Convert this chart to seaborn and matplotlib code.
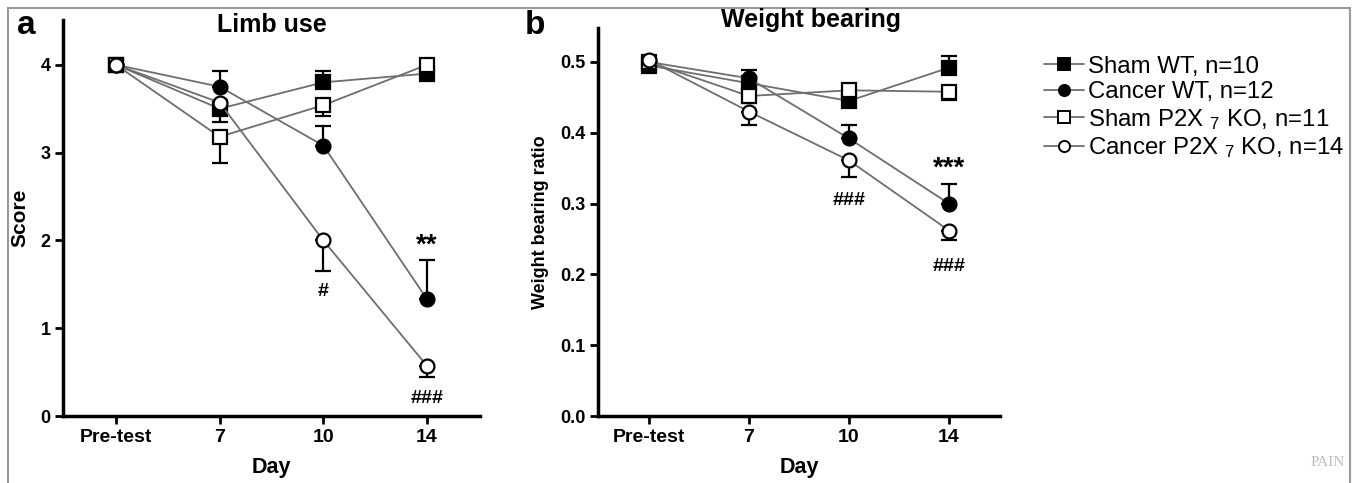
import numpy as np
import pandas as pd
import seaborn as sns
import matplotlib.pyplot as plt
from matplotlib.lines import Line2D
from matplotlib.patches import Rectangle

sns.set_style("ticks")
plt.rcParams['font.family'] = ['Liberation Sans', 'DejaVu Sans']
plt.rcParams['mathtext.fontset'] = 'custom'
plt.rcParams['mathtext.rm'] = 'Liberation Sans'
plt.rcParams['mathtext.it'] = 'Liberation Sans:italic'
plt.rcParams['mathtext.bf'] = 'Liberation Sans:bold'
for k in ['text.color', 'axes.labelcolor', 'xtick.color', 'ytick.color',
          'axes.edgecolor']:
    plt.rcParams[k] = 'black'

# categories / groups
days = ["Pre-test", "7", "10", "14"]
groups = ["Sham WT, n=10", "Cancer WT, n=12",
          "Sham P2X $_7$ KO, n=11", "Cancer P2X $_7$ KO, n=14"]
marker_shapes = ["s", "o", "s", "o"]
marker_fills = ["black", "black", "white", "white"]
err_dir = ["up", "up", "down", "down"]

# a) limb use score
limb_sham_wt = [4.0, 3.50, 3.80, 3.90]
limb_cancer_wt = [4.0, 3.75, 3.08, 1.33]
limb_sham_ko = [4.0, 3.18, 3.54, 4.00]
limb_cancer_ko = [4.0, 3.57, 2.00, 0.57]
limb_sham_wt_err = [0.0, 0.10, 0.13, 0.05]
limb_cancer_wt_err = [0.0, 0.18, 0.22, 0.45]
limb_sham_ko_err = [0.0, 0.30, 0.12, 0.03]
limb_cancer_ko_err = [0.0, 0.22, 0.35, 0.13]
limb_marks = [(2, 1.42, "#"), (3, 1.94, "**"), (3, 0.20, "###")]

# b) weight bearing ratio
wb_sham_wt = [0.495, 0.470, 0.445, 0.492]
wb_cancer_wt = [0.500, 0.477, 0.392, 0.300]
wb_sham_ko = [0.500, 0.452, 0.460, 0.458]
wb_cancer_ko = [0.503, 0.430, 0.361, 0.262]
wb_sham_wt_err = [0.0, 0.010, 0.008, 0.016]
wb_cancer_wt_err = [0.0, 0.011, 0.019, 0.028]
wb_sham_ko_err = [0.0, 0.010, 0.006, 0.012]
wb_cancer_ko_err = [0.0, 0.019, 0.023, 0.014]
wb_marks = [(2, 0.305, "###"), (3, 0.350, "***"), (3, 0.211, "###")]

line_gray = "#6e6e6e"


def make_df(series, errs):
    rows = []
    for g, vals, e in zip(groups, series, errs):
        for i, (d, v, ee) in enumerate(zip(days, vals, e)):
            rows.append({"group": g, "day": d, "pos": i, "value": v, "err": ee})
    return pd.DataFrame(rows)


def draw_panel(ax, df, marks, ylim, yticks, fmt, ylabel, yfs):
    for g, m, fc, d in zip(groups, marker_shapes, marker_fills, err_dir):
        sub = df[df.group == g]
        low = sub.err.values if d == "down" else np.zeros(len(sub))
        up = sub.err.values if d == "up" else np.zeros(len(sub))
        ax.errorbar(sub.pos, sub.value, yerr=[low, up], fmt="none",
                    ecolor="black", elinewidth=1.6, capsize=5.5,
                    capthick=1.6, zorder=2)
        sns.lineplot(data=sub, x="pos", y="value", ax=ax, color=line_gray,
                     lw=1.3, marker=m, markersize=10, markerfacecolor=fc,
                     markeredgecolor="black", markeredgewidth=1.6, zorder=3)
    for x, y, t in marks:
        fs = 20 if "*" in t else 14
        ax.text(x, y, t, ha="center", va="center", fontsize=fs,
                fontweight="bold")
    ax.set_xlim(-0.51, 3.51)
    ax.set_ylim(*ylim)
    ax.set_xticks(range(len(days)))
    ax.set_xticklabels(days, fontsize=14, fontweight="bold")
    ax.set_yticks(yticks)
    ax.set_yticklabels([fmt.format(v) for v in yticks], fontsize=13,
                       fontweight="bold")
    ax.set_xlabel("Day", fontsize=15.5, fontweight="bold", labelpad=8)
    ax.set_ylabel(ylabel, fontsize=yfs, fontweight="bold", labelpad=8)
    sns.despine(ax=ax)
    for s in ["left", "bottom"]:
        ax.spines[s].set_linewidth(2.5)
    ax.tick_params(width=2, length=6, pad=3)


fig = plt.figure(figsize=(13.65, 4.83), dpi=100)
ax_a = fig.add_axes([0.0462, 0.1387, 0.3054, 0.8199])
ax_b = fig.add_axes([0.438, 0.1387, 0.2946, 0.8033])

df_a = make_df([limb_sham_wt, limb_cancer_wt, limb_sham_ko, limb_cancer_ko],
               [limb_sham_wt_err, limb_cancer_wt_err, limb_sham_ko_err,
                limb_cancer_ko_err])
df_b = make_df([wb_sham_wt, wb_cancer_wt, wb_sham_ko, wb_cancer_ko],
               [wb_sham_wt_err, wb_cancer_wt_err, wb_sham_ko_err,
                wb_cancer_ko_err])

draw_panel(ax_a, df_a, limb_marks, (0, 4.51), [0, 1, 2, 3, 4], "{:.0f}",
           "Score", 15)
draw_panel(ax_b, df_b, wb_marks, (0, 0.548), [0.0, 0.1, 0.2, 0.3, 0.4, 0.5],
           "{:.1f}", "Weight bearing ratio", 13)

# titles and panel letters
fig.text(272 / 1365, 1 - 25 / 483, "Limb use", ha="center", va="center",
         fontsize=18, fontweight="bold")
fig.text(811 / 1365, 1 - 20 / 483, "Weight bearing", ha="center",
         va="center", fontsize=18, fontweight="bold")
fig.text(26 / 1365, 1 - 26 / 483, "a", ha="center", va="center",
         fontsize=24, fontweight="bold")
fig.text(535 / 1365, 1 - 25 / 483, "b", ha="center", va="center",
         fontsize=24, fontweight="bold")

handles = [Line2D([], [], color=line_gray, lw=1.3, marker=m, markersize=8,
                  markerfacecolor=fc, markeredgecolor="black",
                  markeredgewidth=1.4)
           for m, fc in zip(marker_shapes, marker_fills)]
fig.legend(handles, groups, loc="upper left",
           bbox_to_anchor=(1034 / 1365, 1 - 46 / 483), frameon=False,
           fontsize=17.3, handlelength=1.7, handletextpad=0.15,
           labelspacing=0.15, borderaxespad=0)

fig.patches.append(Rectangle((8 / 1365, -0.05), 1342 / 1365,
                             1.05 - 8 / 483, transform=fig.transFigure,
                             fill=False, edgecolor="#9a9a9a", lw=1.5))
fig.text(1345 / 1365, 1 - 463 / 483, "PAIN", ha="right", va="center",
         fontsize=11, color="#bdbdbd", family="Liberation Serif")

fig.savefig("out.png", dpi=100)
